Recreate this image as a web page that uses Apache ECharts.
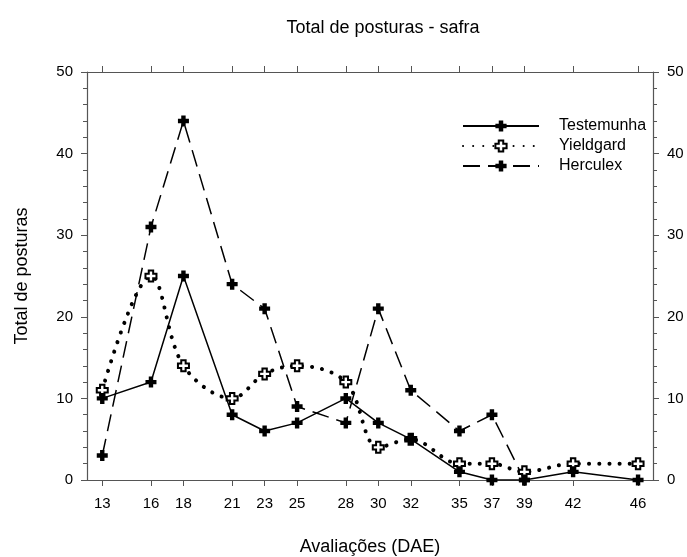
<!DOCTYPE html>
<html>
<head>
<meta charset="utf-8">
<script src="https://cdn.jsdelivr.net/npm/echarts@6/dist/echarts.min.js"></script>
<style>
  html, body { margin: 0; padding: 0; background: #fff; }
  #chart { width: 687px; height: 557px; }
</style>
</head>
<body>
<div id="chart"></div>
<script>
// dados (DAE = dias após emergência)
let days = [13, 16, 18, 21, 23, 25, 28, 30, 32, 35, 37, 39, 42, 46];
let testemunha = [10, 12, 25, 8, 6, 7, 10, 7, 5, 1, 0, 0, 1, 0];
let yieldgard = [11, 25, 14, 10, 13, 14, 12, 4, 5, 2, 2, 1, 2, 2];
let herculex = [3, 31, 44, 24, 21, 9, 7, 21, 11, 6, 8, 0, null, null];
let yTicks = [0, 10, 20, 30, 40, 50];

let pairs = (arr) => days.map((d, i) => [d, arr[i]]);

// marcador em forma de cruz
let cross = 'path://M3,0H7V3H10V7H7V10H3V7H0V3H3Z';
let axisColor = '#555';
let font = 'Liberation Sans, Arial, sans-serif';

let xBase = {
    type: 'value',
    min: 12.06,
    max: 46.92,
    axisLine: { show: true, onZero: false, lineStyle: { color: axisColor, width: 1.2 } },
    axisTick: { show: true, customValues: days, length: 6, lineStyle: { color: axisColor } },
    splitLine: { show: false }
};

let yBase = {
    type: 'value',
    min: 0,
    max: 50,
    interval: 10,
    axisLine: { show: true, lineStyle: { color: axisColor, width: 1.2 } },
    axisTick: { show: true, length: 6, lineStyle: { color: axisColor } },
    minorTick: { show: true, splitNumber: 5, length: 4, lineStyle: { color: axisColor } },
    splitLine: { show: false },
    axisLabel: { color: '#000', fontSize: 15, fontFamily: font, margin: 14 }
};

let chart = echarts.init(document.getElementById('chart'));
let option = {
    animation: false,
    backgroundColor: '#fff',
    title: {
        text: 'Total de posturas - safra',
        left: 378,
        textAlign: 'center',
        top: 14,
        textStyle: { color: '#000', fontSize: 18, fontWeight: 'normal', fontFamily: font }
    },
    grid: { left: 87, right: 34, top: 72, bottom: 77, outerBoundsMode: 'none' },
    legend: {
        orient: 'vertical',
        left: 457,
        top: 113,
        itemWidth: 76,
        itemHeight: 14,
        itemGap: 4,
        data: ['Testemunha', 'Yieldgard', 'Herculex'],
        textStyle: { color: '#000', fontSize: 16, fontFamily: font, padding: [0, 0, 0, 15] }
    },
    xAxis: [
        Object.assign({}, xBase, {
            position: 'bottom',
            name: 'Avaliações (DAE)',
            nameLocation: 'middle',
            nameGap: 58,
            nameTextStyle: { color: '#000', fontSize: 18, fontFamily: font },
            axisLabel: { customValues: days, color: '#000', fontSize: 15, fontFamily: font, margin: 16 }
        }),
        Object.assign({}, xBase, {
            position: 'top',
            axisLabel: { show: false }
        })
    ],
    yAxis: [
        Object.assign({}, yBase, {
            position: 'left',
            name: 'Total de posturas',
            nameLocation: 'middle',
            nameGap: 56,
            nameTextStyle: { color: '#000', fontSize: 18, fontFamily: font }
        }),
        Object.assign({}, yBase, { position: 'right' })
    ],
    series: [
        {
            name: 'Testemunha',
            type: 'line',
            data: pairs(testemunha),
            symbol: cross,
            symbolSize: 11,
            z: 4,
            lineStyle: { color: '#000', width: 1.5 },
            itemStyle: { color: '#000' }
        },
        {
            name: 'Yieldgard',
            type: 'line',
            data: pairs(yieldgard),
            smooth: 0.35,
            symbol: cross,
            symbolSize: 11,
            z: 3,
            lineStyle: { color: '#000', width: 4, type: [0.1, 10], cap: 'round' },
            itemStyle: { color: '#fff', borderColor: '#000', borderWidth: 2 }
        },
        {
            name: 'Herculex',
            type: 'line',
            data: pairs(herculex),
            symbol: cross,
            symbolSize: 11,
            z: 2,
            lineStyle: { color: '#000', width: 1.5, type: [17, 8] },
            itemStyle: { color: '#000' }
        }
    ]
};
chart.setOption(option);
</script>
</body>
</html>
